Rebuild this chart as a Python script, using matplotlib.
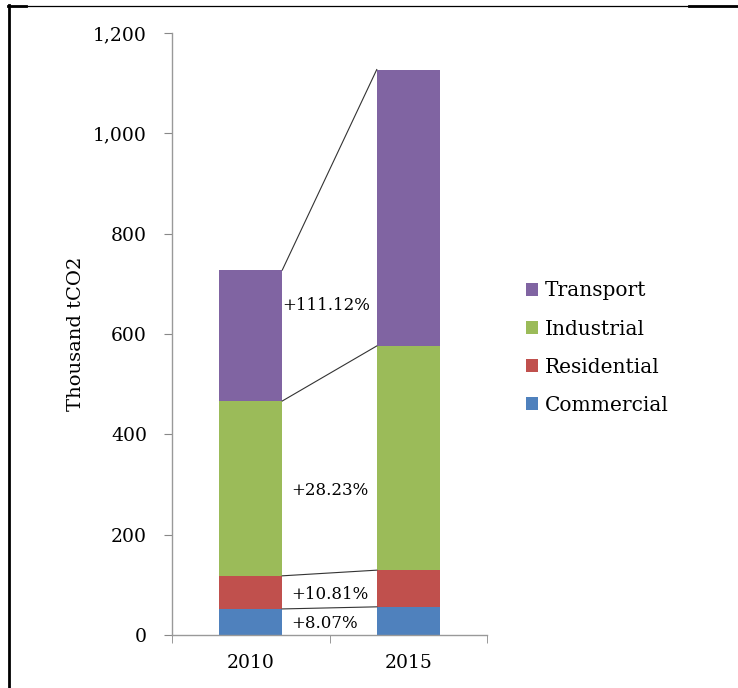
import matplotlib
matplotlib.use('Agg')
import matplotlib.pyplot as plt
from matplotlib.lines import Line2D
from matplotlib.ticker import FuncFormatter, FixedLocator

plt.rcParams['font.family'] = ['DejaVu Serif']

# Emissions by sector, thousand tCO2
years = ['2010', '2015']
sectors = ['Commercial', 'Residential', 'Industrial', 'Transport']
colors = ['#4F81BD', '#C0504D', '#9BBB59', '#8064A2']
values_2010 = [52.0, 66.0, 348.5, 261.0]
values_2015 = [56.2, 73.1, 446.9, 551.0]
growth_labels = ['+8.07%', '+10.81%', '+28.23%', '+111.12%']

fig = plt.figure(figsize=(7.38, 6.88), dpi=100)
ax = fig.add_axes([0.2331, 0.0770, 0.4268, 0.875])

bar_w = 0.4
x = [0, 1]
bottoms = [0.0, 0.0]
tops_2010 = []
tops_2015 = []
for name, c, v10, v15 in zip(sectors, colors, values_2010, values_2015):
    ax.bar(x, [v10, v15], bar_w, bottom=bottoms, color=c, label=name, zorder=2)
    bottoms = [bottoms[0] + v10, bottoms[1] + v15]
    tops_2010.append(bottoms[0])
    tops_2015.append(bottoms[1])

# connector lines between the segment tops
for t10, t15 in zip(tops_2010, tops_2015):
    ax.plot([bar_w / 2, 1 - bar_w / 2], [t10, t15], color='#333333', lw=0.8, zorder=3)

# growth labels beside each 2010 segment
for i, lab in enumerate(growth_labels):
    lo = tops_2010[i - 1] if i else 0
    mid = (lo + tops_2010[i]) / 2
    if i == 3:
        ax.text(0.2, mid + 60, lab, ha='left', va='center', fontsize=12, zorder=4)
    else:
        ax.text(0.26, mid - 4, lab, ha='left', va='center', fontsize=12, zorder=4)

ax.set_xlim(-0.5, 1.5)
ax.set_ylim(0, 1200)
ax.set_yticks(range(0, 1201, 200))
ax.yaxis.set_major_formatter(FuncFormatter(lambda v, p: f'{int(v):,}'))
ax.set_xticks(x)
ax.set_xticklabels(years)
ax.xaxis.set_minor_locator(FixedLocator([-0.5, 0.5, 1.5]))
ax.tick_params(axis='x', which='major', length=0, pad=14, labelsize=13.5)
ax.tick_params(axis='x', which='minor', length=6, color='#888888')
ax.tick_params(axis='y', length=6, color='#888888', pad=12, labelsize=13.5)

for s in ['top', 'right']:
    ax.spines[s].set_visible(False)
for s in ['left', 'bottom']:
    ax.spines[s].set_color('#999999')
    ax.spines[s].set_linewidth(1.0)

ax.set_ylabel('Thousand tCO2', fontsize=14, labelpad=6)

handles, labels = ax.get_legend_handles_labels()
fig.legend(handles[::-1], labels[::-1], loc='center left', bbox_to_anchor=(0.688, 0.494),
           frameon=False, fontsize=14.5, handlelength=0.6, handleheight=0.6,
           handletextpad=0.35, labelspacing=0.95)

# outer frame
fig.add_artist(Line2D([0.0125, 0.0125], [0, 0.993], color='black', lw=2.0, transform=fig.transFigure))
fig.add_artist(Line2D([0.011, 1.0], [0.992, 0.992], color='black', lw=0.9, transform=fig.transFigure))
fig.add_artist(Line2D([0.011, 0.035], [0.991, 0.991], color='black', lw=2.0, transform=fig.transFigure))
fig.add_artist(Line2D([0.934, 1.0], [0.991, 0.991], color='black', lw=2.0, transform=fig.transFigure))

fig.savefig('out.png', dpi=100)
